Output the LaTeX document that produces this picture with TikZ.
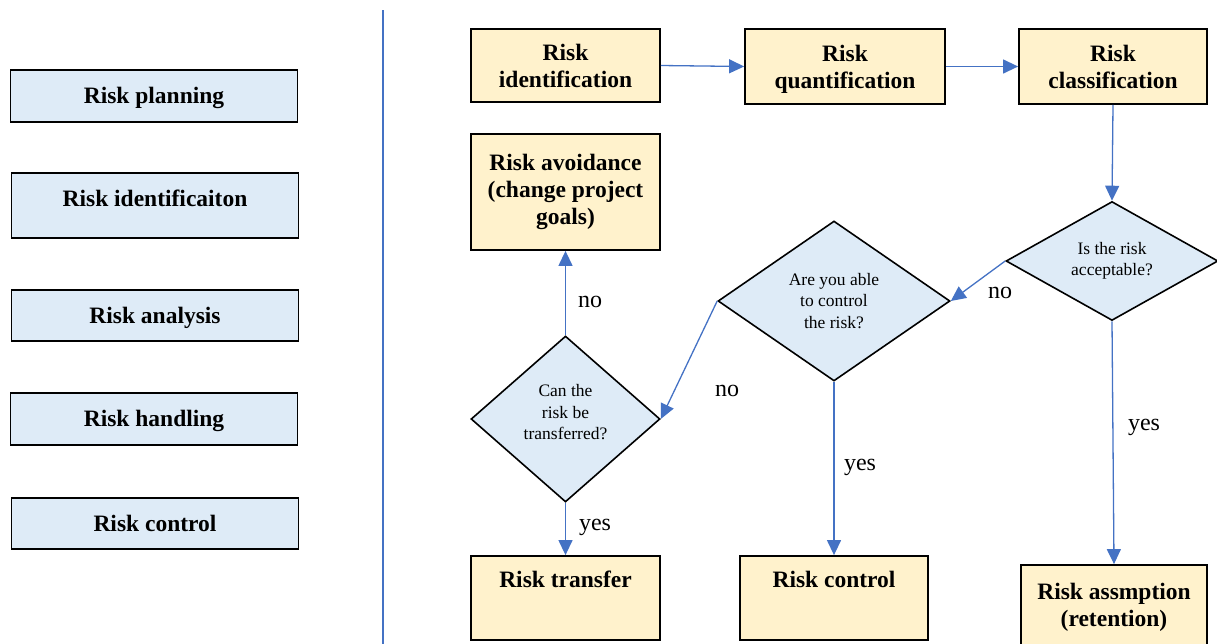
\documentclass[tikz,border=0pt]{standalone}
\usepackage{fontspec}
\setmainfont{Liberation Serif}
\usetikzlibrary{shapes.geometric,arrows.meta}
\definecolor{ybox}{HTML}{FFF2CC}
\definecolor{bbox}{HTML}{DEEBF7}
\definecolor{arr}{HTML}{4472C4}
\tikzset{
  bigbold/.style={font=\fontsize{23.5}{27}\selectfont\bfseries},
  lbox/.style={draw=black, line width=1.8pt, fill=bbox, minimum width=287pt, inner sep=0pt, bigbold, align=center,
    text height=20.6pt, text depth=5pt},
  yellowbox/.style={draw=black, line width=1.8pt, fill=ybox, inner sep=0pt, bigbold, align=center},
  topbox/.style={yellowbox, text height=31pt, text depth=53pt, minimum width=189pt},
  decision/.style={diamond, draw=black, line width=1.6pt, fill=bbox, inner sep=0pt, align=center,
    font=\fontsize{17.5}{21.5}\selectfont},
  flow/.style={draw=arr, line width=1.3pt, -{Triangle[length=15pt,width=14pt]}},
  lbl/.style={font=\fontsize{24}{28}\selectfont, inner sep=0pt}
}
\begin{document}
\begin{tikzpicture}[x=1pt,y=-1pt]
\useasboundingbox (0,0) rectangle (1217,643);
\clip (0,0) rectangle (1217,643);
% left column
\node[lbox, minimum height=52pt] (lp) at (154,96) {Risk planning};
\node[lbox, minimum height=65pt, text depth=18pt] (li) at (155,205.5) {Risk identificaiton};
\node[lbox, minimum height=51pt] (la) at (155,315.5) {Risk analysis};
\node[lbox, minimum height=52pt] (lh) at (154,419) {Risk handling};
\node[lbox, minimum height=51pt] (lc) at (155,523.5) {Risk control};
% divider
\coordinate (dtop) at (383,10);
\coordinate (dbot) at (383,650);
\draw[draw=arr, line width=1.3pt] (dtop) -- (dbot);
% top row
\node[yellowbox, minimum width=189pt, minimum height=73pt] (ri) at (565.5,65.5) {Risk\\identification};
\node[yellowbox, minimum width=200pt, minimum height=75pt, text depth=0pt] (rq) at (845,66.5) {Risk\\quantification};
\node[yellowbox, minimum width=188pt, minimum height=75pt] (rc) at (1113,66.5) {Risk\\classification};
\node[yellowbox, minimum width=189pt, minimum height=116pt] (ra) at (565.5,192) {Risk avoidance\\(change project\\goals)};
% bottom row
\node[topbox] (rt) at (565.5,598) {Risk transfer};
\node[topbox, minimum width=188pt] (rk) at (834,598) {Risk control};
\node[yellowbox, minimum width=186pt, minimum height=85pt] (rs) at (1114,607.5) {Risk assmption\\(retention)};
% decisions
\node[decision, minimum width=212pt, minimum height=118pt] (da) at (1112,261) {Is the risk\\acceptable?};
\node[decision, minimum width=232pt, minimum height=160pt] (dc) at (834,301) {Are you able\\to control\\the risk?};
\node[decision, minimum width=189pt, minimum height=166pt, text depth=14pt] (dt) at (565.5,419) {Can the\\risk be\\transferred?};
% connectors
\draw[flow] (ri.east) -- (rq.west);
\draw[flow] (rq.east) -- (rc.west);
\draw[flow] (rc.south) -- (da.north);
\draw[flow] (da.west) -- (dc.east);
\draw[flow] (dc.west) -- (dt.east);
\draw[flow] (dt.north) -- (ra.south);
\draw[flow] (dt.south) -- (rt.north);
\draw[flow] (dc.south) -- (rk.north);
\draw[flow] (da.south) -- (rs.north);
% labels
\node[lbl] (n1) at (1000,293) {no};
\node[lbl] (n2) at (727,391) {no};
\node[lbl] (n3) at (590,302) {no};
\node[lbl] (y1) at (595,527) {yes};
\node[lbl] (y2) at (860,467) {yes};
\node[lbl] (y3) at (1144,427) {yes};
\end{tikzpicture}
\end{document}
